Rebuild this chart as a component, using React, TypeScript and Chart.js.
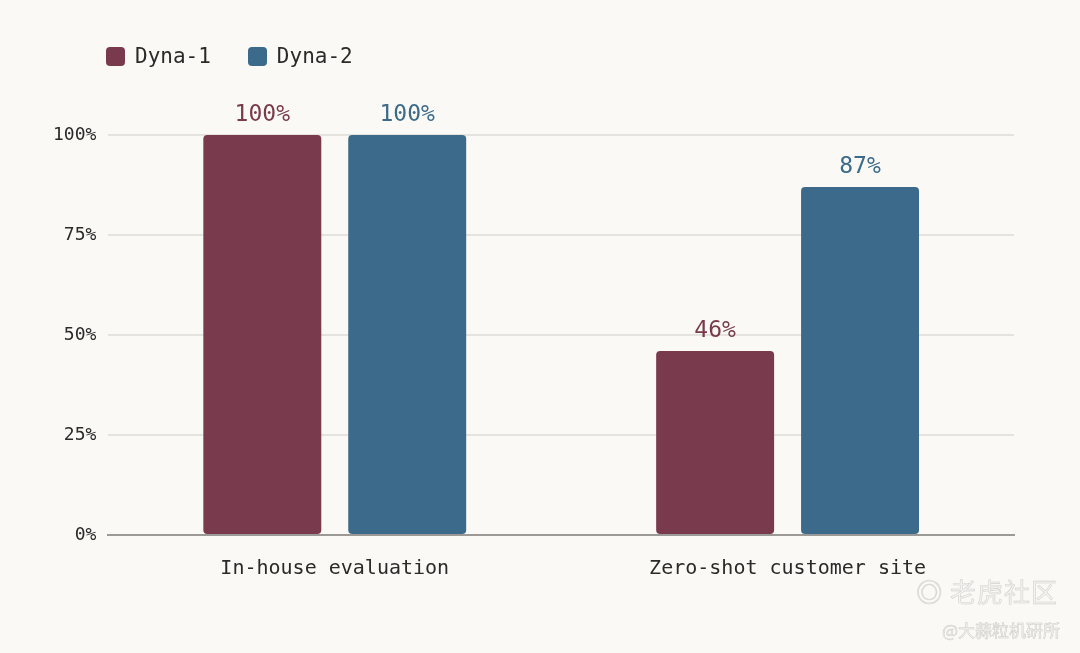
import React, { useEffect, useRef } from "react";
import { Chart, registerables } from "chart.js";

Chart.register(...registerables);

const categories = ["In-house evaluation", "Zero-shot customer site"];
const seriesNames = ["Dyna-1", "Dyna-2"];
const dyna1Values = [100, 46];
const dyna2Values = [100, 87];
const yTicks = [0, 25, 50, 75, 100];

const COLORS = ["#7a3a4e", "#3b6a8a"];
const BG = "#faf9f5";
const FONT = "'DejaVu Sans Mono', monospace";

const valueLabels = {
  id: "valueLabels",
  afterDatasetsDraw(chart: any) {
    const ctx = chart.ctx;
    ctx.save();
    ctx.font = `23px ${FONT}`;
    ctx.textAlign = "center";
    ctx.textBaseline = "bottom";
    chart.data.datasets.forEach((ds: any, i: number) => {
      const meta = chart.getDatasetMeta(i);
      ctx.fillStyle = ds.backgroundColor;
      meta.data.forEach((bar: any, j: number) => {
        ctx.fillText(`${ds.data[j]}%`, bar.x, bar.y - 8);
      });
    });
    ctx.restore();
  },
};

export default function App() {
  const ref = useRef<HTMLCanvasElement>(null);

  useEffect(() => {
    document.body.style.margin = "0";
    document.body.style.background = BG;
    const chart = new Chart(ref.current!, {
      type: "bar",
      data: {
        labels: categories,
        datasets: [
          {
            label: seriesNames[0],
            data: dyna1Values,
            backgroundColor: COLORS[0],
            borderRadius: 4,
            borderSkipped: false,
            categoryPercentage: 0.64,
            barPercentage: 0.814,
          },
          {
            label: seriesNames[1],
            data: dyna2Values,
            backgroundColor: COLORS[1],
            borderRadius: 4,
            borderSkipped: false,
            categoryPercentage: 0.64,
            barPercentage: 0.814,
          },
        ],
      },
      options: {
        animation: false,
        responsive: false,
        layout: { padding: { top: 135, left: 41, right: 66, bottom: 50 } },
        plugins: {
          legend: { display: false },
          tooltip: { enabled: false },
        },
        scales: {
          x: {
            grid: { display: false, drawTicks: false },
            border: { display: true, color: "#9b9a96", width: 2 },
            ticks: { color: "#2a2a2a", font: { family: FONT, size: 20 }, padding: 22 },
          },
          y: {
            min: 0,
            max: 100,
            afterBuildTicks: (axis: any) => {
              axis.ticks = yTicks.map((v) => ({ value: v }));
            },
            grid: { color: "#e4e3de", lineWidth: 2, drawTicks: false },
            border: { display: false },
            ticks: {
              color: "#2a2a2a",
              font: { family: FONT, size: 18 },
              padding: 12,
              callback: (v: any) => `${v}%`,
            },
          },
        },
      },
      plugins: [valueLabels],
    });
    return () => chart.destroy();
  }, []);

  return (
    <div style={{ position: "relative", width: 1080, height: 653, background: BG, fontFamily: FONT }}>
      <canvas ref={ref} width={1080} height={653} style={{ position: "absolute", left: 0, top: 0 }} />
      <div style={{ position: "absolute", left: 106, top: 44, display: "flex", alignItems: "center", fontSize: 21, color: "#2a2a2a" }}>
        {seriesNames.map((name, i) => (
          <div key={name} style={{ display: "flex", alignItems: "center", marginRight: i === 0 ? 37 : 0 }}>
            <span style={{ display: "inline-block", width: 19, height: 19, borderRadius: 4, background: COLORS[i], marginRight: 10 }} />
            <span>{name}</span>
          </div>
        ))}
      </div>
      <div style={{ position: "absolute", right: 22, top: 572, fontFamily: "'Noto Sans CJK SC', sans-serif", fontSize: 26, color: "#f4f4f2", WebkitTextStroke: "0.6px #d2d2d0", letterSpacing: 1 }}>
        ◎ 老虎社区
      </div>
      <div style={{ position: "absolute", right: 20, top: 617, fontFamily: "'Noto Sans CJK SC', sans-serif", fontSize: 17, color: "#f4f4f2", WebkitTextStroke: "0.5px #cacac8" }}>
        @大蒜粒机研所
      </div>
    </div>
  );
}
